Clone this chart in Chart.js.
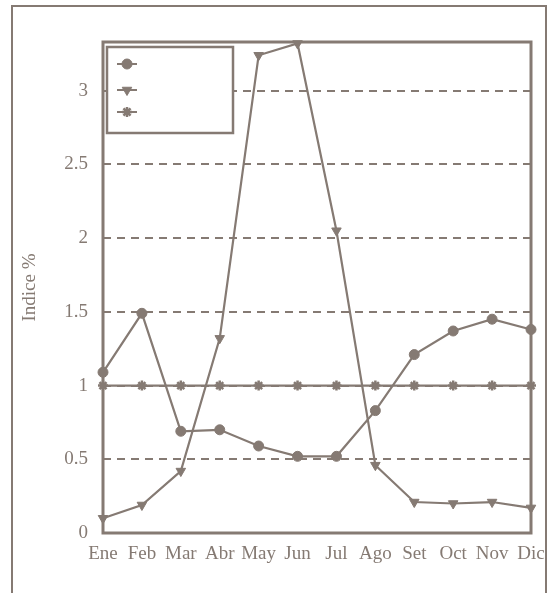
<!DOCTYPE html>
<html><head><meta charset="utf-8">
<script src="https://cdn.jsdelivr.net/npm/chart.js@4/dist/chart.umd.min.js"></script>
<style>html,body{margin:0;padding:0;background:#fff;} canvas{display:block;}</style>
</head><body>
<canvas id="c" width="550" height="593" style="width:550px;height:593px"></canvas>
<script>
const months = ['Ene','Feb','Mar','Abr','May','Jun','Jul','Ago','Set','Oct','Nov','Dic'];
const seriesCircle = [1.09, 1.49, 0.69, 0.70, 0.59, 0.52, 0.52, 0.83, 1.21, 1.37, 1.45, 1.38];
const seriesTriangle = [0.10, 0.19, 0.42, 1.32, 3.24, 3.32, 2.05, 0.46, 0.21, 0.20, 0.21, 0.17];
const seriesStar = [1, 1, 1, 1, 1, 1, 1, 1, 1, 1, 1, 1];
const yTicks = [0, 0.5, 1, 1.5, 2, 2.5, 3];
const yMax = 3.33;
const yTitle = 'Indice %';

const INK = '#857a73';
const SERIF = '"Liberation Serif", "DejaVu Serif", "Times New Roman", serif';

const framePlugin = {
  id: 'frames',
  beforeDraw(chart) {
    const ctx = chart.ctx;
    ctx.save();
    ctx.strokeStyle = INK;
    ctx.lineWidth = 2;
    ctx.beginPath();
    ctx.moveTo(12, 600); ctx.lineTo(12, 6); ctx.lineTo(546, 6); ctx.lineTo(546, 600);
    ctx.stroke();
    ctx.restore();
  },
  beforeDatasetsDraw(chart) {
    const ctx = chart.ctx, a = chart.chartArea;
    ctx.save();
    ctx.strokeStyle = INK;
    ctx.lineWidth = 3;
    ctx.strokeRect(a.left, a.top, a.right - a.left, a.bottom - a.top);
    ctx.restore();
  },
  afterDraw(chart) {
    const ctx = chart.ctx, a = chart.chartArea;
    const bx = a.left + 4, by = a.top + 5, bw = 126, bh = 86;
    ctx.save();
    ctx.fillStyle = '#fff';
    ctx.fillRect(bx, by, bw, bh);
    ctx.strokeStyle = INK;
    ctx.lineWidth = 2.5;
    ctx.strokeRect(bx, by, bw, bh);
    const ys = [by + 17, by + 43, by + 65];
    chart.data.datasets.forEach((ds, i) => {
      const y = ys[i], x = bx + 20;
      ctx.strokeStyle = INK; ctx.lineWidth = 2;
      ctx.beginPath(); ctx.moveTo(x - 10, y); ctx.lineTo(x + 10, y); ctx.stroke();
      ctx.fillStyle = INK; ctx.strokeStyle = INK;
      ctx.lineWidth = ds.pointBorderWidth;
      Chart.helpers.drawPoint(ctx, {
        pointStyle: ds.pointStyle, rotation: ds.pointRotation || 0,
        radius: ds.pointRadius, borderWidth: ds.pointBorderWidth
      }, x, y);
    });
    ctx.restore();
  }
};

const common = {
  borderColor: INK, backgroundColor: INK,
  pointBackgroundColor: INK, pointBorderColor: INK,
  borderWidth: 2.2, tension: 0, clip: false
};

new Chart(document.getElementById('c'), {
  type: 'line',
  data: {
    labels: months,
    datasets: [
      Object.assign({ data: seriesCircle, pointStyle: 'circle', pointRadius: 5, pointBorderWidth: 1 }, common),
      Object.assign({ data: seriesTriangle, pointStyle: 'triangle', pointRotation: 180, pointRadius: 5.5, pointBorderWidth: 1 }, common),
      Object.assign({ data: seriesStar, pointStyle: 'star', pointRadius: 5, pointBorderWidth: 2.5 }, common)
    ]
  },
  options: {
    responsive: false,
    animation: false,
    events: [],
    layout: { padding: { top: 42, right: 19, left: 0, bottom: 0 } },
    plugins: { legend: { display: false }, tooltip: { enabled: false } },
    scales: {
      x: {
        offset: false,
        grid: { display: false, drawTicks: false },
        border: { display: false },
        ticks: { color: INK, padding: 10, font: { family: SERIF, size: 19 }, maxRotation: 0, autoSkip: false },
        afterFit(s) { s.height = 60; s.paddingLeft = 0; s.paddingRight = 0; }
      },
      y: {
        min: 0, max: yMax,
        afterBuildTicks(s) { s.ticks = yTicks.map(v => ({ value: v })); },
        grid: { color: INK, lineWidth: 2, drawTicks: false },
        border: { display: false, dash: [8, 6] },
        ticks: { color: INK, padding: 15, font: { family: SERIF, size: 19 },
                 callback: v => String(v) },
        title: { display: true, text: yTitle, color: INK, font: { family: SERIF, size: 19 }, padding: { top: 19, bottom: 0 } },
        afterFit(s) { s.width = 103; s.paddingTop = 0; s.paddingBottom = 0; }
      }
    }
  },
  plugins: [framePlugin]
});
</script>
</body></html>
